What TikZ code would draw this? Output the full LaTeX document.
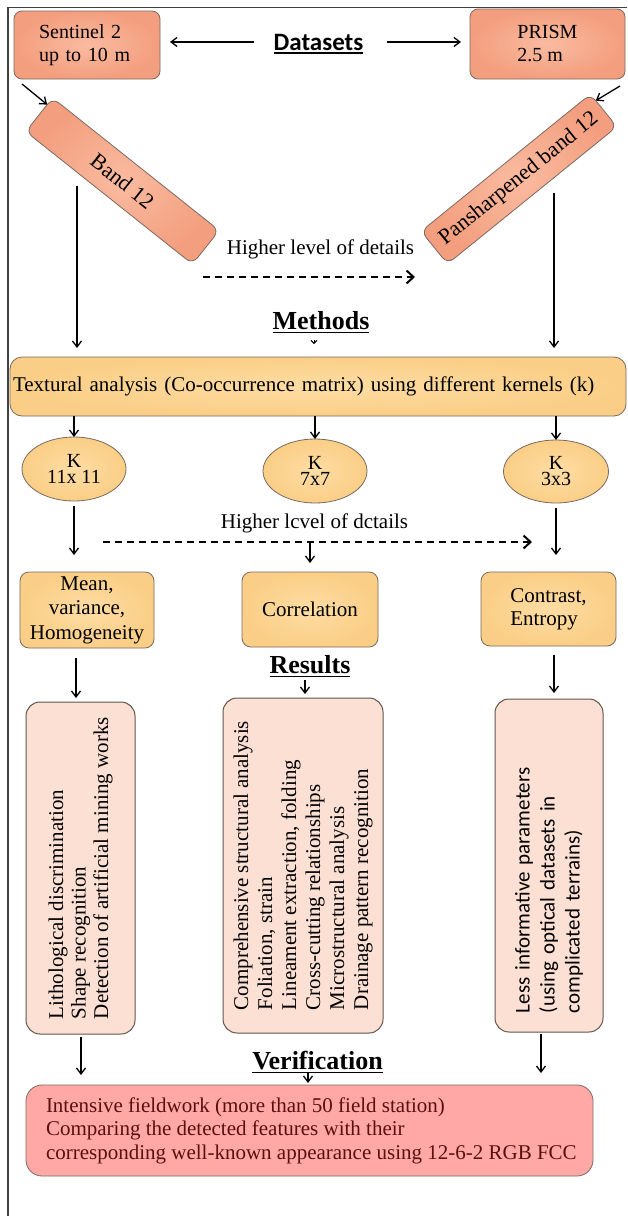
\documentclass[tikz,border=0pt]{standalone}
\usepackage{fontspec}
\setmainfont{Liberation Serif}
\newfontfamily\carlito{Carlito}
\usetikzlibrary{arrows.meta,shapes.geometric,calc}
\definecolor{salmon}{HTML}{F6AA8B}
\definecolor{salmonin}{HTML}{FABBA0}
\definecolor{salmonout}{HTML}{F39E7E}
\definecolor{lorange}{HTML}{FBD38E}
\definecolor{lorangein}{HTML}{FEDDA4}
\definecolor{lorangeout}{HTML}{FACE86}
\definecolor{lpink}{HTML}{FCE0D4}
\definecolor{lred}{HTML}{FFA8A6}
\definecolor{bord}{HTML}{7A6A62}
\definecolor{maroon}{HTML}{5A1010}
\begin{document}
\begin{tikzpicture}[x=1pt,y=-1pt,
  every node/.style={inner sep=0pt, outer sep=0pt},
  sbox/.style={draw=bord, line width=0.8pt, inner color=salmonin, outer color=salmonout, rounded corners=8pt},
  obox/.style={draw=bord, line width=0.8pt, inner color=lorangein, outer color=lorangeout, rounded corners=9pt},
  pbox/.style={draw=bord!80!black, line width=1pt, fill=lpink, rounded corners=14pt},
  rbox/.style={draw=bord, line width=0.8pt, fill=lred, rounded corners=16pt},
  kell/.style={ellipse, draw=bord, line width=0.8pt, inner color=lorangein, outer color=lorangeout},
  arr/.style={-{Straight Barb[length=6pt,width=9pt]}, line width=1.3pt},
  darr/.style={-{Straight Barb[length=7pt,width=13pt]}, line width=2pt, dash pattern=on 7pt off 5pt},
  head/.style={font=\fontsize{26}{30}\selectfont\bfseries, anchor=base},
  uline/.style={line width=1.5pt},
  txt/.style={font=\fontsize{21}{24}\selectfont}
]
\fill[white] (0,0) rectangle (627,1216);
\useasboundingbox (0,0) rectangle (627,1216);
\draw[line width=1.5pt, black!75] (8,1216) -- (8,7.5) -- (627,7.5);

% datasets
\node[sbox, minimum width=146pt, minimum height=68pt, text width=96pt, inner xsep=25pt, align=left, font=\fontsize{20}{23}\selectfont] (sentinel) at (87,45) {Sentinel 2\\up to 10 m};
\node[sbox, minimum width=155pt, minimum height=70pt, align=left, font=\fontsize{20}{23}\selectfont] (prism) at (547.5,44) {PRISM\\2.5 m};
\node[anchor=base, font=\fontsize{25}{30}\selectfont\carlito\bfseries] (datasets) at (318.5,50) {Datasets};
\draw[uline] ([yshift=-3pt]datasets.base west) -- ([yshift=-3pt]datasets.base east);
\draw[arr, shorten <=20pt, shorten >=10pt] (datasets.west) -- (datasets.west -| sentinel.east);
\draw[arr, shorten <=24pt, shorten >=9pt] (datasets.east) -- (datasets.east -| prism.west);

\node[sbox, rotate=-38.5, minimum width=213pt, minimum height=43pt, font=\fontsize{22}{26}\selectfont] (band) at (122.5,181) {Band 12};
\node[sbox, rotate=39, minimum width=218pt, minimum height=42pt, font=\fontsize{22}{26}\selectfont] (pan) at (519,179) {Pansharpened band 12};
\draw[arr] ([xshift=8pt,yshift=-5pt]sentinel.south west) -- ($(band.north west)!0.2!(band.south west)$);
\draw[arr] ([xshift=-5pt,yshift=-7pt]prism.south east) -- ($(pan.north east)!0.2!(pan.south east)$);

\node[anchor=base, txt] (hl1) at (320.5,254) {Higher level of details};
\coordinate (d1s) at (203,277);
\coordinate (d1e) at (415,277);
\draw[darr] (d1s) -- (d1e);

% methods
\node[head] (methods) at (321,329) {Methods};
\draw[uline] ([yshift=-3.5pt]methods.base west) -- ([yshift=-3.5pt]methods.base east);
\draw[-{Straight Barb[length=3pt,width=6pt]}, line width=1pt] ([xshift=-7pt,yshift=-11pt]methods.base) -- ++(0,4);

\node[obox, rounded corners=12pt, minimum width=616pt, minimum height=59pt, text width=610pt, inner xsep=3pt, align=left, txt] (textural) at (318,386.5) {Textural analysis (Co-occurrence matrix) using different kernels (k)};

\coordinate (bl) at (77,186);
\coordinate (br) at (554,193);
\draw[arr, shorten >=9pt] (bl) -- (bl |- textural.north);
\draw[arr, shorten >=9pt] (br) -- (br |- textural.north);

\node[kell, minimum width=104pt, minimum height=64pt, align=center, font=\fontsize{20}{16}\selectfont] (k1) at (74,469) {K\\11x 11};
\node[kell, minimum width=104pt, minimum height=64pt, align=center, font=\fontsize{20}{16}\selectfont] (k2) at (315,471) {K\\7x7};
\node[kell, minimum width=105pt, minimum height=63pt, align=center, font=\fontsize{20}{16}\selectfont] (k3) at (556,471.5) {K\\3x3};
\draw[arr] (textural.south -| k1.north) -- (k1.north);
\draw[arr] (textural.south -| k2.north) -- (k2.north);
\draw[arr] (textural.south -| k3.north) -- (k3.north);

\node[obox, minimum width=134pt, minimum height=76pt, align=center, font=\fontsize{21}{24.5}\selectfont] (mean) at (87,610) {Mean,\\variance,\\Homogeneity};
\node[obox, minimum width=136pt, minimum height=75pt, align=center, txt] (corr) at (310,609.5) {Correlation};
\node[obox, minimum width=135pt, minimum height=74pt, align=left, font=\fontsize{21}{23}\selectfont] (contrast) at (548.5,609) {Contrast,\\Entropy};

\draw[arr, shorten <=5pt, shorten >=17pt] (k1.south) -- (k1.south |- mean.north);
\draw[arr, shorten <=5pt, shorten >=17pt] (k3.south) -- (k3.south |- contrast.north);

\node[anchor=base, txt] (hl2) at (314.5,528) {Higher lcvel of dctails};
\coordinate (d2s) at (103,542);
\coordinate (d2e) at (532,542);
\draw[darr] (d2s) -- (d2e);
\coordinate (d2m) at (310,543);
\draw[arr, shorten >=9pt] (d2m) -- (d2m |- corr.north);

% results
\node[head] (results) at (310,673) {Results};
\draw[uline] ([yshift=-3.5pt]results.base west) -- ([yshift=-3.5pt]results.base east);

\node[pbox, rotate=90, minimum width=332pt, minimum height=109pt, align=left, font=\fontsize{21}{22.5}\selectfont] (lp) at (80.5,868) {Lithological discrimination\\Shape recognition\\Detection of artificial mining works};
\node[pbox, rotate=90, minimum width=335pt, minimum height=160pt, align=left, font=\fontsize{21}{24}\selectfont] (mp) at (303,865.5) {Comprehensive structural analysis\\Foliation, strain\\Lineament extraction, folding\\Cross-cutting relationships\\Microstructural analysis\\Drainage pattern recognition};
\node[pbox, rotate=90, minimum width=333pt, minimum height=108pt, text width=295pt, inner xsep=19pt, align=left, font=\fontsize{21}{25}\selectfont\carlito] (rp) at (549,865.5) {Less informative parameters\\(using optical datasets in\\complicated terrains)};

\coordinate (ra) at (305,680);
\draw[arr, shorten >=4pt] (ra) -- (ra |- mp.east);
\coordinate (ma) at (76,658);
\draw[arr, shorten >=4pt] (ma) -- (ma |- lp.east);
\coordinate (ca) at (554,655);
\draw[arr, shorten >=6pt] (ca) -- (ca |- rp.east);

% verification
\node[head] (verif) at (317.5,1069) {Verification};
\draw[uline] ([yshift=-3.5pt]verif.base west) -- ([yshift=-3.5pt]verif.base east);

\node[rbox, minimum width=567pt, minimum height=91pt] (bot) at (309.5,1130.5) {};
\node[anchor=west, align=left, font=\fontsize{21}{23.5}\selectfont, text=maroon] (bottxt) at ([xshift=20pt]bot.west) {Intensive fieldwork (more than 50 field station)\\Comparing the detected features with their\\corresponding well-known appearance using 12-6-2 RGB FCC};

\coordinate (va) at (81,1037);
\draw[arr, shorten >=10pt] (va) -- (va |- bot.north);
\coordinate (vb) at (541,1034);
\draw[arr, shorten >=12pt] (vb) -- (vb |- bot.north);
\coordinate (vm) at (308,1072);
\draw[arr, shorten >=2pt] (vm) -- (vm |- bot.north);
\end{tikzpicture}
\end{document}
